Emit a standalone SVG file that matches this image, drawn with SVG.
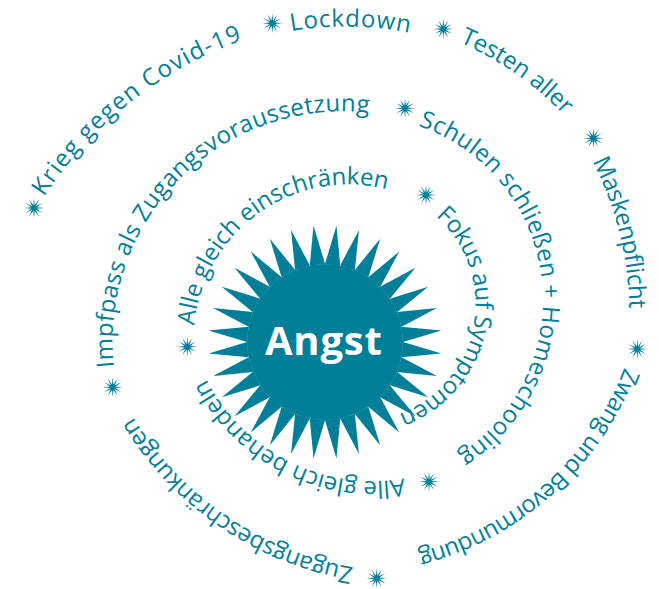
<svg xmlns="http://www.w3.org/2000/svg" width="659" height="589" viewBox="0 0 659 589">
<style>
.t{font-family:"Open Sans",Lato,"Liberation Sans",sans-serif;font-size:24px;fill:#017f99}
.c{font-family:"Open Sans",Lato,"Liberation Sans",sans-serif;font-size:40px;font-weight:700;fill:#ffffff}
.mk{fill:#017f99}
</style>
<defs>
<polygon id="st" points="10,0 2.7,0.72 8.66,5 1.98,1.98 5,8.66 0.72,2.7 0,10 -0.72,2.7 -5,8.66 -1.98,1.98 -8.66,5 -2.7,0.72 -10,0 -2.7,-0.72 -8.66,-5 -1.98,-1.98 -5,-8.66 -0.72,-2.7 0,-10 0.72,-2.7 5,-8.66 1.98,-1.98 8.66,-5 2.7,-0.72"/>
<polygon id="spike" points="-7.7,-77.6 0,-117 7.7,-77.6"/>
<path id="p1" d="M44,197 A396,396 0 0 1 243,40"/>
<path id="p2" d="M291,31 A330,330 0 0 1 410,33"/>
<path id="p3" d="M459.4,42.3 A320,320 0 0 1 564.6,115.8"/>
<path id="p4" d="M592.4,161.4 A330,330 0 0 1 629.3,309.6"/>
<path id="p5" d="M624.4,367.6 A300,300 0 0 1 416.9,552.4"/>
<path id="p6" d="M353.5,567.3 A320,320 0 0 1 132.9,416.4"/>
<path id="p7" d="M114,367 A230,230 0 0 1 370,113"/>
<path id="p8" d="M418.3,125.8 A184,184 0 0 1 457.1,455.4"/>
<path id="p9" d="M404,478.4 A186,186 0 0 1 205.6,377.6"/>
<path id="p10" d="M194.3,325.5 A155,155 0 0 1 388.2,189.6"/>
<path id="p11" d="M435.7,216.3 A117,117 0 0 1 398,414.4"/>
</defs>
<g id="angst">
<g class="mk" transform="translate(325,342)">
<circle r="78"/>
<use href="#spike" transform="rotate(5.625)"/><use href="#spike" transform="rotate(16.875)"/><use href="#spike" transform="rotate(28.125)"/><use href="#spike" transform="rotate(39.375)"/>
<use href="#spike" transform="rotate(50.625)"/><use href="#spike" transform="rotate(61.875)"/><use href="#spike" transform="rotate(73.125)"/><use href="#spike" transform="rotate(84.375)"/>
<use href="#spike" transform="rotate(95.625)"/><use href="#spike" transform="rotate(106.875)"/><use href="#spike" transform="rotate(118.125)"/><use href="#spike" transform="rotate(129.375)"/>
<use href="#spike" transform="rotate(140.625)"/><use href="#spike" transform="rotate(151.875)"/><use href="#spike" transform="rotate(163.125)"/><use href="#spike" transform="rotate(174.375)"/>
<use href="#spike" transform="rotate(185.625)"/><use href="#spike" transform="rotate(196.875)"/><use href="#spike" transform="rotate(208.125)"/><use href="#spike" transform="rotate(219.375)"/>
<use href="#spike" transform="rotate(230.625)"/><use href="#spike" transform="rotate(241.875)"/><use href="#spike" transform="rotate(253.125)"/><use href="#spike" transform="rotate(264.375)"/>
<use href="#spike" transform="rotate(275.625)"/><use href="#spike" transform="rotate(286.875)"/><use href="#spike" transform="rotate(298.125)"/><use href="#spike" transform="rotate(309.375)"/>
<use href="#spike" transform="rotate(320.625)"/><use href="#spike" transform="rotate(331.875)"/><use href="#spike" transform="rotate(343.125)"/><use href="#spike" transform="rotate(354.375)"/>
</g>
<text class="c" x="323.4" y="355" text-anchor="middle" textLength="117">Angst</text>
</g>
<g id="markers" class="mk">
<use href="#st" x="34" y="208"/>
<use href="#st" x="272.3" y="23.3"/>
<use href="#st" x="443.3" y="29"/>
<use href="#st" x="593.3" y="138.3"/>
<use href="#st" x="637.3" y="349"/>
<use href="#st" x="376.7" y="578.3"/>
<use href="#st" x="112.7" y="387.3"/>
<use href="#st" x="405" y="108.3"/>
<use href="#st" x="429" y="481.7"/>
<use href="#st" x="187.3" y="346.7"/>
<use href="#st" x="426" y="195"/>
</g>
<g id="krieg"><text class="t"><textPath href="#p1" textLength="257">Krieg gegen Covid-19</textPath></text></g>
<g id="lockdown"><text class="t"><textPath href="#p2" textLength="119">Lockdown</textPath></text></g>
<g id="testen"><text class="t"><textPath href="#p3" textLength="128">Testen aller</textPath></text></g>
<g id="masken"><text class="t"><textPath href="#p4" textLength="153">Maskenpflicht</textPath></text></g>
<g id="zwang"><text class="t"><textPath href="#p5" textLength="288">Zwang und Bevormundung</textPath></text></g>
<g id="zugang"><text class="t"><textPath href="#p6" textLength="275">Zugangsbeschränkungen</textPath></text></g>
<g id="impfpass"><text class="t"><textPath href="#p7" textLength="413">Impfpass als Zugangsvoraussetzung</textPath></text></g>
<g id="schulen"><text class="t"><textPath href="#p8" textLength="412">Schulen schließen + Homeschooling</textPath></text></g>
<g id="behandeln"><text class="t"><textPath href="#p9" textLength="237">Alle gleich behandeln</textPath></text></g>
<g id="einschraenken"><text class="t"><textPath href="#p10" textLength="268">Alle gleich einschränken</textPath></text></g>
<g id="fokus"><text class="t"><textPath href="#p11" textLength="242">Fokus auf Symptomen</textPath></text></g>
</svg>
